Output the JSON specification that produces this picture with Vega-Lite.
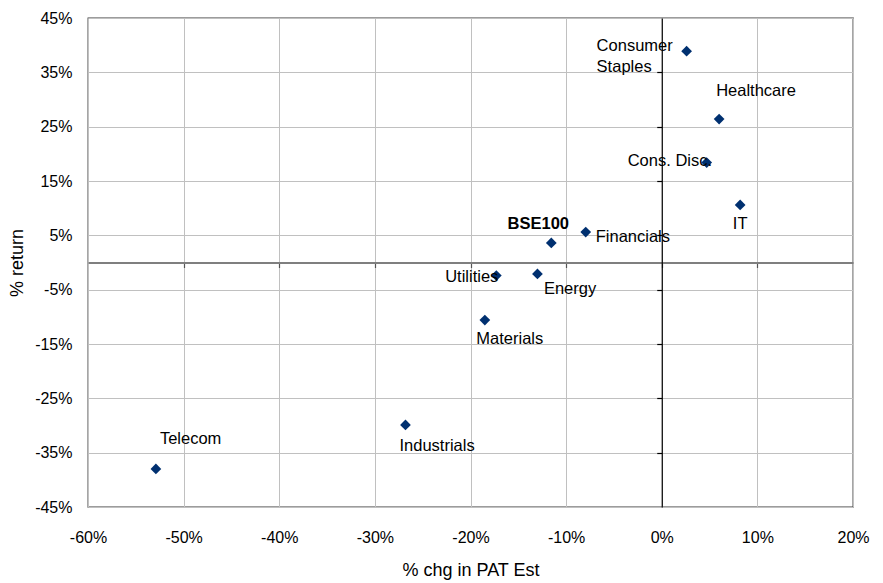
{
  "$schema": "https://vega.github.io/schema/vega-lite/v6.json",
  "autosize": {"type": "none"},
  "width": 765,
  "height": 489,
  "padding": {"left": 88, "top": 18, "right": 30, "bottom": 76},
  "background": "white",
  "config": {
    "view": {"stroke": "#3a3a3a", "strokeWidth": 1.3},
    "font": "Liberation Sans",
    "text": {"font": "Liberation Sans", "fontSize": 16.5, "color": "#000000", "baseline": "middle"}
  },
  "data": {
    "values": [
      {"sector": "Consumer Staples", "pat": 2.6, "ret": 38.9},
      {"sector": "Healthcare", "pat": 6.0, "ret": 26.4},
      {"sector": "Cons. Disc.", "pat": 4.7, "ret": 18.4},
      {"sector": "IT", "pat": 8.2, "ret": 10.6},
      {"sector": "Financials", "pat": -7.95, "ret": 5.6},
      {"sector": "BSE100", "pat": -11.55, "ret": 3.6},
      {"sector": "Energy", "pat": -13.0, "ret": -2.1},
      {"sector": "Utilities", "pat": -17.3, "ret": -2.4},
      {"sector": "Materials", "pat": -18.5, "ret": -10.6},
      {"sector": "Industrials", "pat": -26.8, "ret": -29.9},
      {"sector": "Telecom", "pat": -52.9, "ret": -38.0}
    ]
  },
  "resolve": {"axis": {"x": "independent", "y": "independent"}, "scale": {"x": "shared", "y": "shared"}},
  "layer": [
    {
      "mark": {"type": "point", "shape": "diamond", "filled": true, "size": 115, "color": "#003070", "opacity": 1},
      "encoding": {
        "x": {
          "field": "pat", "type": "quantitative",
          "scale": {"domain": [-60, 20], "nice": false, "zero": false},
          "axis": {
            "orient": "bottom", "values": [-60, -50, -40, -30, -20, -10, 0, 10, 20],
            "labelExpr": "datum.value + '%'", "domain": false, "ticks": false, "tickSize": 0,
            "grid": true, "gridColor": "#c0c0c0", "gridWidth": 1,
            "labelFont": "Liberation Sans", "labelFontSize": 16, "labelColor": "#000000",
            "labelPadding": 30, "labelBaseline": "middle", "labelFlush": false, "labelOverlap": false,
            "title": "% chg in PAT Est", "titleFont": "Liberation Sans", "titleFontSize": 18,
            "titleFontWeight": "normal", "titleColor": "#000000", "titleY": 63, "titleBaseline": "middle"
          }
        },
        "y": {
          "field": "ret", "type": "quantitative",
          "scale": {"domain": [-45, 45], "nice": false, "zero": false},
          "axis": {
            "orient": "left", "values": [-45, -35, -25, -15, -5, 5, 15, 25, 35, 45],
            "labelExpr": "datum.value + '%'", "domain": false, "ticks": false, "tickSize": 0,
            "grid": true, "gridColor": "#c0c0c0", "gridWidth": 1,
            "labelFont": "Liberation Sans", "labelFontSize": 16, "labelColor": "#000000",
            "labelPadding": 16, "labelFlush": false, "labelOverlap": false,
            "title": "% return", "titleFont": "Liberation Sans", "titleFontSize": 18,
            "titleFontWeight": "normal", "titleColor": "#000000", "titleX": -71, "titleBaseline": "middle"
          }
        }
      }
    },
    {
      "mark": {"type": "point", "opacity": 0},
      "encoding": {
        "x": {
          "field": "pat", "type": "quantitative",
          "axis": {
            "orient": "bottom", "offset": -244.5, "values": [-50, -40, -30, -20, -10, 0, 10],
            "labels": false, "grid": false, "title": null,
            "domain": true, "domainColor": "#7f7f7f", "domainWidth": 2,
            "ticks": true, "tickSize": 5, "tickColor": "#555555", "tickWidth": 1.2
          }
        },
        "y": {
          "field": "ret", "type": "quantitative",
          "axis": {
            "orient": "left", "offset": -573.75, "values": [-35, -25, -15, -5, 5, 15, 25, 35],
            "labels": false, "grid": false, "title": null,
            "domain": true, "domainColor": "#000000", "domainWidth": 1.2,
            "ticks": true, "tickSize": 5, "tickColor": "#000000", "tickWidth": 1.2
          }
        }
      }
    },
    {
      "transform": [{"filter": "datum.sector === 'Consumer Staples'"}],
      "mark": {"type": "text", "align": "left", "dx": -90, "dy": -5, "lineBreak": "\n", "lineHeight": 21},
      "encoding": {
        "x": {"field": "pat", "type": "quantitative", "axis": null},
        "y": {"field": "ret", "type": "quantitative", "axis": null},
        "text": {"value": ["Consumer", "Staples"]}
      }
    },
    {
      "transform": [{"filter": "datum.sector === 'Healthcare'"}],
      "mark": {"type": "text", "align": "left", "dx": -3, "dy": -28},
      "encoding": {
        "x": {"field": "pat", "type": "quantitative", "axis": null},
        "y": {"field": "ret", "type": "quantitative", "axis": null},
        "text": {"field": "sector"}
      }
    },
    {
      "transform": [{"filter": "datum.sector === 'Cons. Disc.'"}],
      "mark": {"type": "text", "align": "left", "dx": -79, "dy": -2},
      "encoding": {
        "x": {"field": "pat", "type": "quantitative", "axis": null},
        "y": {"field": "ret", "type": "quantitative", "axis": null},
        "text": {"field": "sector"}
      }
    },
    {
      "transform": [{"filter": "datum.sector === 'IT'"}],
      "mark": {"type": "text", "align": "center", "dx": 0, "dy": 19},
      "encoding": {
        "x": {"field": "pat", "type": "quantitative", "axis": null},
        "y": {"field": "ret", "type": "quantitative", "axis": null},
        "text": {"field": "sector"}
      }
    },
    {
      "transform": [{"filter": "datum.sector === 'Financials'"}],
      "mark": {"type": "text", "align": "left", "dx": 10, "dy": 5},
      "encoding": {
        "x": {"field": "pat", "type": "quantitative", "axis": null},
        "y": {"field": "ret", "type": "quantitative", "axis": null},
        "text": {"field": "sector"}
      }
    },
    {
      "transform": [{"filter": "datum.sector === 'BSE100'"}],
      "mark": {"type": "text", "align": "center", "dx": -13, "dy": -19, "fontWeight": "bold"},
      "encoding": {
        "x": {"field": "pat", "type": "quantitative", "axis": null},
        "y": {"field": "ret", "type": "quantitative", "axis": null},
        "text": {"field": "sector"}
      }
    },
    {
      "transform": [{"filter": "datum.sector === 'Energy'"}],
      "mark": {"type": "text", "align": "left", "dx": 6.5, "dy": 15.5},
      "encoding": {
        "x": {"field": "pat", "type": "quantitative", "axis": null},
        "y": {"field": "ret", "type": "quantitative", "axis": null},
        "text": {"field": "sector"}
      }
    },
    {
      "transform": [{"filter": "datum.sector === 'Utilities'"}],
      "mark": {"type": "text", "align": "right", "dx": 2, "dy": 1.5},
      "encoding": {
        "x": {"field": "pat", "type": "quantitative", "axis": null},
        "y": {"field": "ret", "type": "quantitative", "axis": null},
        "text": {"field": "sector"}
      }
    },
    {
      "transform": [{"filter": "datum.sector === 'Materials'"}],
      "mark": {"type": "text", "align": "left", "dx": -8.5, "dy": 18.5},
      "encoding": {
        "x": {"field": "pat", "type": "quantitative", "axis": null},
        "y": {"field": "ret", "type": "quantitative", "axis": null},
        "text": {"field": "sector"}
      }
    },
    {
      "transform": [{"filter": "datum.sector === 'Industrials'"}],
      "mark": {"type": "text", "align": "left", "dx": -6, "dy": 21},
      "encoding": {
        "x": {"field": "pat", "type": "quantitative", "axis": null},
        "y": {"field": "ret", "type": "quantitative", "axis": null},
        "text": {"field": "sector"}
      }
    },
    {
      "transform": [{"filter": "datum.sector === 'Telecom'"}],
      "mark": {"type": "text", "align": "left", "dx": 4, "dy": -30},
      "encoding": {
        "x": {"field": "pat", "type": "quantitative", "axis": null},
        "y": {"field": "ret", "type": "quantitative", "axis": null},
        "text": {"field": "sector"}
      }
    }
  ]
}
